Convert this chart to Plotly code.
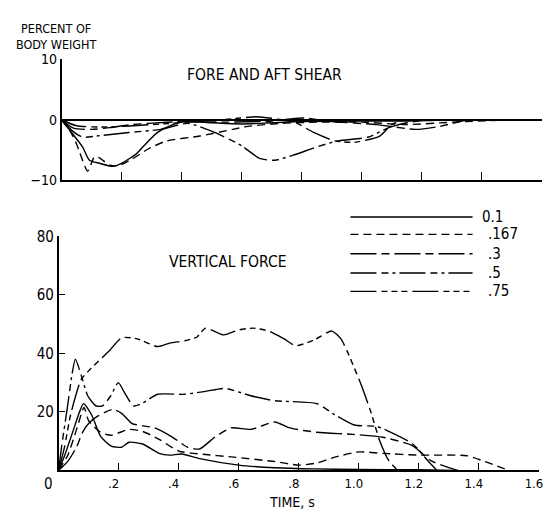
import plotly.graph_objects as go

W, H = 553, 518

series_names = ["0.1", ".167", ".3", ".5", ".75"]
dash_styles = ["solid", "8px,5px", "26px,5px,8px,5px", "26px,5px,7px,4px,3px,4px", "26px,5px,6px,4px,6px,4px,6px,5px"]

# ---------------- Fore and aft shear (percent of body weight) ----------------
shear_t_01 = [0, 0.03, 0.07, 0.093, 0.126, 0.17, 0.2, 0.25, 0.28, 0.32, 0.37, 0.41, 0.5, 0.6, 0.7, 0.8, 1.0, 1.15, 1.3]
shear_v_01 = [0, -1.9, -4.5, -6.7, -7.2, -7.7, -7.2, -5.6, -4.0, -2.1, -0.8, -0.3, -0.5, -0.7, -0.5, -0.3, -0.2, -0.2, 0]

shear_t_167 = [0, 0.03, 0.05, 0.087, 0.11, 0.126, 0.16, 0.19, 0.235, 0.29, 0.35, 0.46, 0.57, 0.62, 0.73, 0.85, 1.0, 1.15, 1.3, 1.5]
shear_v_167 = [0, -2.0, -4.0, -8.5, -6.1, -6.3, -7.5, -7.6, -6.5, -4.8, -3.5, -2.7, -1.6, -1.1, -0.6, -0.4, -0.4, -0.8, -0.4, 0]

shear_t_3 = [0, 0.04, 0.1, 0.16, 0.235, 0.29, 0.41, 0.55, 0.7, 0.8, 0.9, 1.05, 1.18, 1.26, 1.35]
shear_v_3 = [0, -1.4, -1.6, -1.3, -0.8, -0.6, -0.3, -0.4, -0.2, 0.3, -0.3, -0.8, -1.6, -1.1, 0]

shear_t_5 = [0, 0.04, 0.07, 0.115, 0.225, 0.33, 0.42, 0.51, 0.6, 0.66, 0.71, 0.77, 0.85, 0.92, 1.02, 1.09, 1.15, 1.22]
shear_v_5 = [0, -2.0, -2.9, -2.7, -2.1, -1.6, -0.6, -2.1, -4.3, -6.4, -6.7, -5.9, -4.5, -3.5, -2.9, -1.3, -0.5, 0]

shear_t_75 = [0, 0.05, 0.15, 0.3, 0.45, 0.58, 0.65, 0.72, 0.78, 0.84, 0.91, 0.98, 1.06, 1.1, 1.14]
shear_v_75 = [0, -1.0, -1.2, -0.8, -0.3, 0.2, 0.5, 0.1, -0.5, -2.1, -3.5, -3.7, -2.7, -0.8, 0]

# ---------------- Vertical force (percent of body weight) ----------------
vert_t_01 = [0, 0.02, 0.05, 0.07, 0.083, 0.11, 0.14, 0.175, 0.21, 0.235, 0.28, 0.335, 0.37, 0.41, 0.47, 0.6, 0.72, 0.85, 1.0, 1.2, 1.32]
vert_v_01 = [0, 5, 14, 20, 22.8, 19, 11.6, 8.3, 7.9, 9.6, 9, 5.8, 5.2, 5.6, 4, 1.8, 0.9, 0.5, 0.3, 0.2, 0]

vert_t_167 = [0, 0.03, 0.06, 0.085, 0.1, 0.14, 0.175, 0.235, 0.28, 0.335, 0.4, 0.48, 0.575, 0.72, 0.8, 0.86, 0.92, 1.0, 1.08, 1.2, 1.36, 1.42, 1.5]
vert_v_167 = [0, 5, 14, 21.5, 17, 13, 12, 14, 13.3, 10.6, 6.6, 5.5, 4.6, 3, 1.8, 2.5, 4.5, 6.3, 5.8, 5.2, 5, 3, 0]

vert_t_3 = [0, 0.03, 0.06, 0.08, 0.1, 0.13, 0.18, 0.21, 0.245, 0.32, 0.38, 0.43, 0.47, 0.52, 0.575, 0.64, 0.72, 0.77, 0.86, 0.98, 1.08, 1.18, 1.24, 1.33]
vert_v_3 = [0, 3, 8, 13, 16, 18.5, 20.8, 19.5, 16, 14.5, 11.3, 7.9, 7.3, 11.3, 14.5, 14, 16.5, 14.5, 13, 12.3, 11.3, 8.4, 3.3, 0]

vert_t_5 = [0, 0.01, 0.03, 0.045, 0.056, 0.077, 0.097, 0.125, 0.146, 0.174, 0.199, 0.22, 0.25, 0.28, 0.33, 0.42, 0.49, 0.555, 0.64, 0.72, 0.86, 0.92, 0.985, 1.06, 1.1, 1.18, 1.23, 1.26]
vert_v_5 = [0, 8, 22, 33, 38, 32, 25.5, 22, 22, 25.5, 30, 26.5, 22, 23, 26, 26, 27, 28, 25.5, 23.8, 22.8, 19, 15.5, 15, 13.3, 9, 3.3, 0]

vert_t_75 = [0, 0.02, 0.04, 0.075, 0.1, 0.135, 0.17, 0.21, 0.26, 0.33, 0.37, 0.42, 0.46, 0.49, 0.55, 0.6, 0.65, 0.7, 0.75, 0.79, 0.85, 0.91, 0.94, 0.96, 1.005, 1.04, 1.07, 1.1, 1.13]
vert_v_75 = [0, 8, 19, 31, 34, 37.5, 41, 45.3, 45, 42.3, 43.5, 44.3, 45.5, 48.6, 46.3, 48, 48.6, 47.6, 45, 42.6, 44.5, 47.6, 45, 41, 30, 20, 10, 3.3, 0]

shear_t = [shear_t_01, shear_t_167, shear_t_3, shear_t_5, shear_t_75]
shear_v = [shear_v_01, shear_v_167, shear_v_3, shear_v_5, shear_v_75]
vert_t = [vert_t_01, vert_t_167, vert_t_3, vert_t_5, vert_t_75]
vert_v = [vert_v_01, vert_v_167, vert_v_3, vert_v_5, vert_v_75]

x_tickvals = [0.2, 0.4, 0.6, 0.8, 1.0, 1.2, 1.4, 1.6]
x_ticktext = [".2", ".4", ".6", ".8", "1.0", "1.2", "1.4", "1.6"]
shear_ticks = [-10, 0, 10]
vert_ticks = [20, 40, 60, 80]

FONT = "Liberation Sans Narrow, DejaVu Sans Condensed, Arial Narrow, Liberation Sans, sans-serif"


def px(x):
    return x / W


def py(y):
    return 1 - y / H


def tf(size):
    return dict(family=FONT, size=size, color="black")


fig = go.Figure()
for i, name in enumerate(series_names):
    fig.add_trace(go.Scatter(x=shear_t[i], y=shear_v[i], mode="lines", name=name, showlegend=False,
                             line=dict(color="black", width=1.4, dash=dash_styles[i], shape="spline", smoothing=0.6),
                             xaxis="x", yaxis="y"))
    fig.add_trace(go.Scatter(x=vert_t[i], y=vert_v[i], mode="lines", name=name, showlegend=False,
                             line=dict(color="black", width=1.4, dash=dash_styles[i], shape="spline", smoothing=0.6),
                             xaxis="x2", yaxis="y2"))

axis_common = dict(showgrid=False, showline=True, linecolor="black", linewidth=1.5,
                   ticks="inside", tickcolor="black", tickwidth=1.2)

fig.update_layout(
    width=W, height=H, margin=dict(l=0, r=0, t=0, b=0), autosize=False,
    paper_bgcolor="white", plot_bgcolor="white", showlegend=False,
    font=tf(15),
    xaxis=dict(domain=[px(62), px(546)], range=[0, 1.6005], anchor="y", tickvals=x_tickvals,
               showticklabels=False, ticklen=8, zeroline=False, **axis_common),
    yaxis=dict(domain=[py(177), py(52)], range=[-10, 10], anchor="x", tickvals=shear_ticks,
               ticklen=6, zeroline=True, zerolinecolor="black", zerolinewidth=1.5, tickfont=tf(14), **axis_common),
    xaxis2=dict(domain=[px(59), px(543)], range=[0, 1.6005], anchor="y2", tickvals=x_tickvals,
                ticktext=x_ticktext, ticklen=8, zeroline=False, tickfont=tf(13), ticklabelshift=-5,
                **axis_common),
    yaxis2=dict(domain=[py(477), py(235)], range=[0, 80], anchor="x2", tickvals=vert_ticks,
                ticklen=7, zeroline=False, tickfont=tf(15), **axis_common),
)

annots = [
    dict(text="PERCENT OF<br>BODY WEIGHT", x=px(56), y=py(28), xanchor="center", yanchor="middle", size=12.5),
    dict(text="FORE AND AFT SHEAR", x=px(266), y=py(68), xanchor="center", yanchor="middle", size=15.5),
    dict(text="VERTICAL FORCE", x=px(168), y=py(262), xanchor="left", yanchor="middle", size=15.5),
    dict(text="TIME, s", x=px(294), y=py(510), xanchor="center", yanchor="middle", size=14),
]
for a in annots:
    size = a.pop("size")
    fig.add_annotation(xref="paper", yref="paper", showarrow=False, font=tf(size), **a)

# "0" shared origin label of the vertical force plot
fig.add_annotation(x=0, y=0, xref="x2", yref="y2", text="0", showarrow=False, xanchor="center", yanchor="middle",
                   xshift=-10, yshift=-14, font=tf(15))

# Legend drawn by hand (long sample lines)
legend_y = [215, 233, 253, 273, 292]
legend_label_x = [483, 490, 490, 490, 490]
for i, name in enumerate(series_names):
    fig.add_shape(type="line", xref="paper", yref="paper", x0=px(353), x1=px(476), y0=py(legend_y[i]), y1=py(legend_y[i]),
                  line=dict(color="black", width=1.4, dash=dash_styles[i]))
    fig.add_annotation(xref="paper", yref="paper", x=px(legend_label_x[i]), y=py(legend_y[i]), text=name, showarrow=False,
                       xanchor="left", yanchor="middle", font=tf(15))

post = ("var d=document.getElementById('{plot_id}');"
        "d.style.position='absolute';d.style.left='0px';d.style.top='0px';"
        "document.documentElement.style.overflow='hidden';document.documentElement.style.height='518px';"
        "document.body.style.margin='0';document.body.style.overflow='hidden';document.body.style.height='518px';")

fig.write_html("out.html", config={"displayModeBar": False}, post_script=post)
